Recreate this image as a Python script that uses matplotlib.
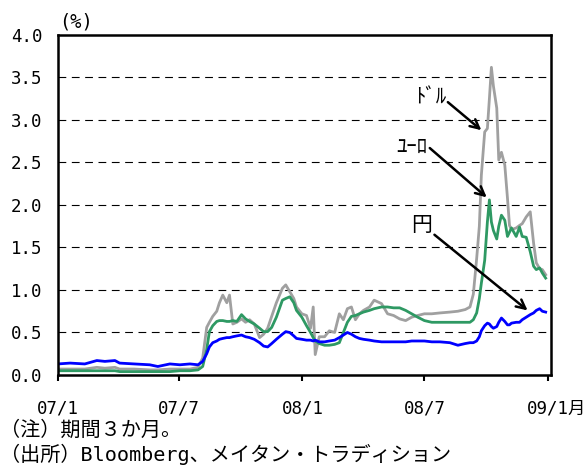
# -*- coding: utf-8 -*-
import pandas as pd
import matplotlib.pyplot as plt
from matplotlib.transforms import ScaledTranslation

plt.rcParams['font.family'] = ['Noto Sans CJK JP', 'DejaVu Sans']
# 半角文字は等幅、全角文字はCJKフォントで
mono = ['DejaVu Sans Mono', 'Noto Sans CJK JP']

# 日付（3系列共通）
dates = [
    '2007-01-01', '2007-01-19', '2007-02-10', '2007-02-28', '2007-03-12', '2007-03-27', '2007-04-03',
    '2007-04-25', '2007-05-18', '2007-05-30', '2007-06-17', '2007-07-02', '2007-07-17', '2007-07-29',
    '2007-08-05', '2007-08-11', '2007-08-15', '2007-08-20', '2007-08-26', '2007-08-30', '2007-09-04',
    '2007-09-10', '2007-09-14', '2007-09-19', '2007-09-25', '2007-10-02', '2007-10-08', '2007-10-14',
    '2007-10-21', '2007-10-29', '2007-11-04', '2007-11-10', '2007-11-16', '2007-11-23', '2007-12-02',
    '2007-12-07', '2007-12-13', '2007-12-19', '2007-12-23', '2007-12-31',
    '2008-01-07', '2008-01-13', '2008-01-17', '2008-01-20', '2008-01-26', '2008-02-03', '2008-02-10',
    '2008-02-18', '2008-02-25', '2008-03-02', '2008-03-08', '2008-03-14', '2008-03-20', '2008-03-26',
    '2008-04-01', '2008-04-10', '2008-04-17', '2008-04-28', '2008-05-07', '2008-05-16', '2008-05-25',
    '2008-06-03', '2008-06-12', '2008-06-21', '2008-07-01', '2008-07-12', '2008-07-24', '2008-08-08',
    '2008-08-20', '2008-08-31', '2008-09-07', '2008-09-12', '2008-09-17', '2008-09-21', '2008-09-24',
    '2008-09-29', '2008-10-03', '2008-10-06', '2008-10-09', '2008-10-12', '2008-10-17', '2008-10-20',
    '2008-10-24', '2008-10-29', '2008-11-02', '2008-11-05', '2008-11-08', '2008-11-15', '2008-11-20',
    '2008-11-24', '2008-11-30', '2008-12-06', '2008-12-11', '2008-12-15', '2008-12-20', '2008-12-24',
    '2008-12-29',
]

# ドル（%）
usd = [
    0.07, 0.07, 0.07, 0.09, 0.08, 0.09, 0.07, 0.07, 0.06, 0.06, 0.07, 0.07, 0.07, 0.09,
    0.20, 0.56, 0.62, 0.69, 0.75, 0.85, 0.94, 0.85, 0.94, 0.60, 0.62, 0.66, 0.62, 0.65,
    0.60, 0.44, 0.48, 0.55, 0.69, 0.85, 1.02, 1.06, 0.98, 0.90, 0.80, 0.72,
    0.70, 0.55, 0.80, 0.24, 0.45, 0.45, 0.52, 0.50, 0.72, 0.65, 0.78, 0.80, 0.65, 0.72,
    0.76, 0.80, 0.88, 0.84, 0.72, 0.70, 0.66, 0.64, 0.68, 0.70, 0.72, 0.72, 0.73, 0.74,
    0.75, 0.77, 0.80, 0.95, 1.37, 1.75, 2.35, 2.86, 2.90, 3.25, 3.62, 3.40, 3.14, 2.53,
    2.62, 2.47, 2.08, 1.76, 1.71, 1.73, 1.76, 1.78, 1.86, 1.92, 1.55, 1.32, 1.25, 1.24,
    1.18,
]

# ユーロ（%）
eur = [
    0.05, 0.05, 0.05, 0.05, 0.05, 0.05, 0.04, 0.04, 0.04, 0.04, 0.04, 0.05, 0.05, 0.06,
    0.10, 0.30, 0.51, 0.58, 0.63, 0.64, 0.64, 0.63, 0.63, 0.64, 0.63, 0.71, 0.66, 0.63,
    0.60, 0.55, 0.51, 0.51, 0.56, 0.68, 0.88, 0.90, 0.92, 0.85, 0.76, 0.68,
    0.58, 0.50, 0.44, 0.40, 0.37, 0.35, 0.35, 0.36, 0.38, 0.50, 0.62, 0.69, 0.70, 0.72,
    0.74, 0.76, 0.78, 0.80, 0.80, 0.79, 0.79, 0.76, 0.72, 0.68, 0.64, 0.62, 0.62, 0.62,
    0.62, 0.62, 0.62, 0.65, 0.73, 0.90, 1.08, 1.35, 1.80, 2.06, 1.80, 1.70, 1.60, 1.75,
    1.88, 1.82, 1.63, 1.68, 1.73, 1.63, 1.74, 1.63, 1.62, 1.45, 1.28, 1.24, 1.26, 1.20,
    1.14,
]

# 円（%）
jpy = [
    0.13, 0.14, 0.13, 0.17, 0.16, 0.17, 0.14, 0.13, 0.12, 0.10, 0.13, 0.12, 0.13, 0.12,
    0.16, 0.25, 0.33, 0.38, 0.40, 0.42, 0.43, 0.44, 0.44, 0.45, 0.46, 0.47, 0.45, 0.44,
    0.42, 0.38, 0.34, 0.33, 0.37, 0.42, 0.48, 0.51, 0.50, 0.46, 0.43, 0.42,
    0.41, 0.41, 0.40, 0.41, 0.39, 0.39, 0.40, 0.41, 0.44, 0.47, 0.50, 0.48, 0.45, 0.43,
    0.42, 0.41, 0.40, 0.39, 0.39, 0.39, 0.39, 0.39, 0.40, 0.40, 0.40, 0.39, 0.39, 0.38,
    0.35, 0.37, 0.38, 0.38, 0.40, 0.45, 0.52, 0.58, 0.61, 0.60, 0.57, 0.55, 0.57, 0.62,
    0.67, 0.63, 0.59, 0.59, 0.61, 0.62, 0.62, 0.65, 0.68, 0.71, 0.73, 0.76, 0.78, 0.75,
    0.74,
]

tick_dates = ['2007-01-01', '2007-07-01', '2008-01-01', '2008-07-01', '2009-01-01']
tick_labels = ['07/1', '07/7', '08/1', '08/7', '09/1月']

x = pd.to_datetime(dates)

fig = plt.figure(figsize=(5.87, 4.66), dpi=100)
ax = fig.add_axes([0.0988, 0.1953, 0.8399, 0.7296])

# 系列を描く（ドル→ユーロ→円の順に重ねる）
ax.plot(x, usd, color='#a0a0a0', linewidth=2.0)
ax.plot(x, eur, color='#2e9963', linewidth=2.0)
ax.plot(x, jpy, color='#0000ff', linewidth=2.0)

# 軸の範囲
ax.set_xlim(pd.Timestamp('2007-01-01'), pd.Timestamp('2009-01-06'))
ax.set_ylim(0, 4.0)

# 横の破線
for v in [0.5, 1.0, 1.5, 2.0, 2.5, 3.0, 3.5]:
    ax.axhline(v, color='black', linewidth=0.8, linestyle=(0, (7, 5)), zorder=0)

ax.set_yticks([0.0, 0.5, 1.0, 1.5, 2.0, 2.5, 3.0, 3.5, 4.0])
ax.set_yticklabels(['%.1f' % v for v in ax.get_yticks()], family=mono)
ax.set_xticks(pd.to_datetime(tick_dates))
ax.set_xticklabels(tick_labels, family=mono)
ax.tick_params(axis='y', length=0, pad=11, labelsize=12.5)
ax.tick_params(axis='x', direction='out', length=4.5, width=1.5, pad=13, labelsize=12.5)

# 最後のラベルは「月」の分だけ右へずらす
last = ax.get_xticklabels()[-1]
last.set_transform(last.get_transform() + ScaledTranslation(0.085, 0, fig.dpi_scale_trans))

for s in ax.spines.values():
    s.set_linewidth(1.8)

# 単位
fig.text(76 / 587, 1 - 22 / 466, '(%)', ha='center', va='center', fontsize=13.5, family=mono)

# 系列名と矢印
arrow = dict(arrowstyle='->', color='black', lw=1.8, mutation_scale=16, shrinkA=0, shrinkB=0)
ax.text(pd.Timestamp('2008-07-10'), 3.26, 'ﾄﾞﾙ', ha='center', va='center', fontsize=15)
ax.annotate('', xy=(pd.Timestamp('2008-09-24'), 2.88), xytext=(pd.Timestamp('2008-08-05'), 3.21),
            arrowprops=arrow)
ax.text(pd.Timestamp('2008-06-12'), 2.68, 'ﾕｰﾛ', ha='center', va='center', fontsize=15)
ax.annotate('', xy=(pd.Timestamp('2008-10-02'), 2.09), xytext=(pd.Timestamp('2008-07-09'), 2.67),
            arrowprops=arrow)
ax.text(pd.Timestamp('2008-06-27'), 1.76, '円', ha='center', va='center', fontsize=15)
ax.annotate('', xy=(pd.Timestamp('2008-12-02'), 0.76), xytext=(pd.Timestamp('2008-07-16'), 1.65),
            arrowprops=arrow)

# 注記
fig.text(0.0, 1 - 430 / 466, '（注）期間３か月。', ha='left', va='center', fontsize=14.5, family=mono)
fig.text(0.0, 1 - 454 / 466, '（出所）Bloomberg、メイタン・トラディション', ha='left', va='center',
         fontsize=14.5, family=mono)

plt.savefig('out.png', dpi=100)
